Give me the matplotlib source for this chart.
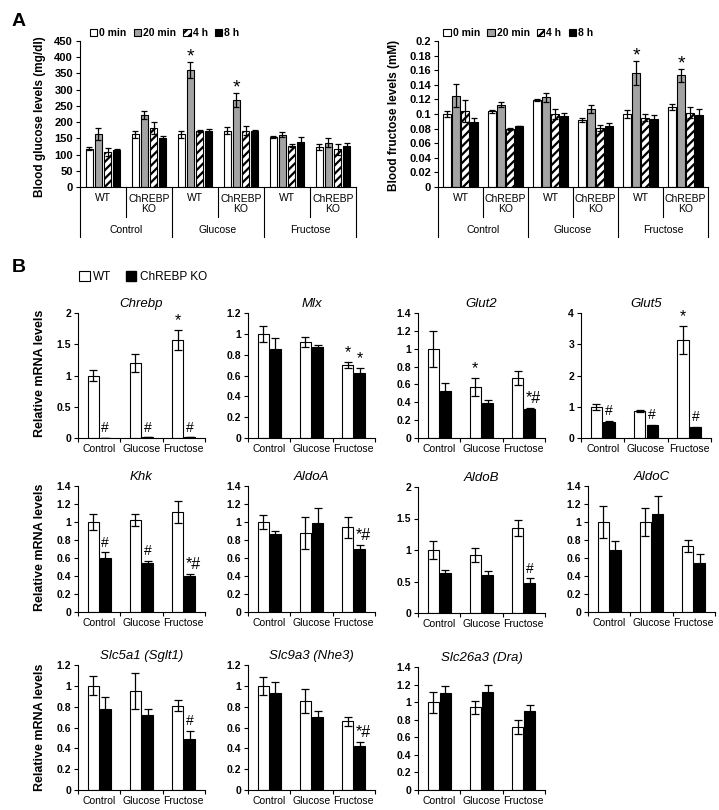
import numpy as np
import matplotlib
matplotlib.use('Agg')
import matplotlib.pyplot as plt
from matplotlib.patches import Patch
from matplotlib.ticker import FormatStrFormatter

plt.rcParams['font.family'] = ['Liberation Sans', 'DejaVu Sans']
plt.rcParams['hatch.linewidth'] = 1.6

W, H = 719, 810

# ---------------- panel A data ----------------
timepoints = ['0 min', '20 min', '4 h', '8 h']
subgroups = ['WT', 'ChREBP\nKO', 'WT', 'ChREBP\nKO', 'WT', 'ChREBP\nKO']
treatments = ['Control', 'Glucose', 'Fructose']

# blood glucose (mg/dl) per time point, 6 subgroups
glc_0min = [118, 162, 162, 173, 154, 123]
glc_0min_err = [5, 10, 10, 11, 4, 10]
glc_20min = [164, 221, 361, 269, 161, 137]
glc_20min_err = [19, 12, 25, 21, 7, 13]
glc_4h = [108, 182, 173, 173, 127, 116]
glc_4h_err = [13, 18, 4, 14, 4, 17]
glc_8h = [113, 151, 173, 172, 139, 126]
glc_8h_err = [5, 7, 5, 5, 14, 11]
glc_stars = [(2, 1), (3, 1)]  # (subgroup, time point)

# blood fructose (mM)
fru_0min = [0.100, 0.104, 0.119, 0.092, 0.100, 0.110]
fru_0min_err = [0.004, 0.002, 0.0015, 0.003, 0.006, 0.004]
fru_20min = [0.125, 0.113, 0.123, 0.107, 0.156, 0.153]
fru_20min_err = [0.016, 0.003, 0.006, 0.005, 0.016, 0.009]
fru_4h = [0.104, 0.080, 0.100, 0.081, 0.095, 0.102]
fru_4h_err = [0.015, 0.0015, 0.007, 0.004, 0.005, 0.007]
fru_8h = [0.089, 0.084, 0.097, 0.083, 0.093, 0.098]
fru_8h_err = [0.005, 0.0, 0.004, 0.004, 0.006, 0.009]
fru_stars = [(4, 1), (5, 1)]

# ---------------- panel B data (Control, Glucose, Fructose) ----------------
chrebp_wt = [1.0, 1.2, 1.57]
chrebp_wt_err = [0.09, 0.145, 0.16]
chrebp_ko = [0.005, 0.012, 0.01]
chrebp_ko_err = [0.0, 0.0, 0.0]
chrebp_wt_marks = ['', '', '*']
chrebp_ko_marks = ['#', '#', '#']

mlx_wt = [1.0, 0.92, 0.70]
mlx_wt_err = [0.08, 0.05, 0.03]
mlx_ko = [0.85, 0.87, 0.62]
mlx_ko_err = [0.11, 0.025, 0.055]
mlx_wt_marks = ['', '', '*']
mlx_ko_marks = ['', '', '*']

glut2_wt = [1.0, 0.57, 0.67]
glut2_wt_err = [0.2, 0.1, 0.08]
glut2_ko = [0.53, 0.39, 0.33]
glut2_ko_err = [0.085, 0.035, 0.005]
glut2_wt_marks = ['', '*', '']
glut2_ko_marks = ['', '', '*#']

glut5_wt = [1.0, 0.87, 3.14]
glut5_wt_err = [0.1, 0.04, 0.45]
glut5_ko = [0.5, 0.41, 0.34]
glut5_ko_err = [0.06, 0.02, 0.02]
glut5_wt_marks = ['', '', '*']
glut5_ko_marks = ['#', '#', '#']

khk_wt = [1.0, 1.02, 1.11]
khk_wt_err = [0.09, 0.065, 0.125]
khk_ko = [0.60, 0.55, 0.40]
khk_ko_err = [0.065, 0.02, 0.02]
khk_wt_marks = ['', '', '']
khk_ko_marks = ['#', '#', '*#']

aldoa_wt = [1.0, 0.88, 0.94]
aldoa_wt_err = [0.08, 0.175, 0.115]
aldoa_ko = [0.87, 0.99, 0.70]
aldoa_ko_err = [0.03, 0.17, 0.05]
aldoa_wt_marks = ['', '', '']
aldoa_ko_marks = ['', '', '*#']

aldob_wt = [1.0, 0.92, 1.35]
aldob_wt_err = [0.15, 0.11, 0.13]
aldob_ko = [0.63, 0.60, 0.47]
aldob_ko_err = [0.05, 0.06, 0.08]
aldob_wt_marks = ['', '', '']
aldob_ko_marks = ['', '', '#']

aldoc_wt = [1.0, 1.0, 0.73]
aldoc_wt_err = [0.18, 0.155, 0.065]
aldoc_ko = [0.69, 1.09, 0.54]
aldoc_ko_err = [0.1, 0.195, 0.11]
aldoc_wt_marks = ['', '', '']
aldoc_ko_marks = ['', '', '']

slc5a1_wt = [1.0, 0.95, 0.81]
slc5a1_wt_err = [0.09, 0.175, 0.05]
slc5a1_ko = [0.78, 0.72, 0.49]
slc5a1_ko_err = [0.115, 0.055, 0.08]
slc5a1_wt_marks = ['', '', '']
slc5a1_ko_marks = ['', '', '#']

slc9a3_wt = [1.0, 0.85, 0.66]
slc9a3_wt_err = [0.085, 0.115, 0.045]
slc9a3_ko = [0.93, 0.70, 0.42]
slc9a3_ko_err = [0.11, 0.063, 0.04]
slc9a3_wt_marks = ['', '', '']
slc9a3_ko_marks = ['', '', '*#']

slc26a3_wt = [1.0, 0.94, 0.72]
slc26a3_wt_err = [0.12, 0.07, 0.08]
slc26a3_ko = [1.1, 1.12, 0.9]
slc26a3_ko_err = [0.08, 0.08, 0.07]
slc26a3_wt_marks = ['', '', '']
slc26a3_ko_marks = ['', '', '']

fig = plt.figure(figsize=(W / 100, H / 100), dpi=100)


def add_axes(x0, y0, x1, y1):
    # pixel box -> figure fraction
    return fig.add_axes([x0 / W, 1 - y1 / H, (x1 - x0) / W, (y1 - y0) / H])


def panel_a(box, series, errs, ymax, ystep, stars, leg_x):
    ax = add_axes(*box)
    x = np.arange(6)
    offs = [-0.3, -0.1, 0.1, 0.3]
    faces = ['white', '#a3a3a3', 'white', 'black']
    hatches = [None, None, '////', None]
    for i in range(4):
        ax.bar(x + offs[i], series[i], 0.16, yerr=errs[i], facecolor=faces[i],
               edgecolor='black', linewidth=0.8, hatch=hatches[i], label=timepoints[i],
               error_kw=dict(ecolor='black', elinewidth=0.9, capsize=2.5, capthick=0.9))
    for sg, t in stars:
        ax.text(sg + offs[t], series[t][sg] + errs[t][sg] + 0.035 * ymax, '*',
                ha='center', va='center', fontsize=14)
    ax.set_xlim(-0.5, 5.5)
    ax.set_ylim(0, ymax)
    ax.set_yticks(np.arange(0, ymax + ystep / 2, ystep))
    ax.yaxis.set_major_formatter(FormatStrFormatter('%g'))
    ax.tick_params(axis='y', length=3, width=0.8, labelsize=8, pad=2)
    for lab in ax.get_yticklabels():
        lab.set_fontweight('bold')
    ax.set_xticks([])
    for s in ['top', 'right']:
        ax.spines[s].set_visible(False)
    for s in ['left', 'bottom']:
        ax.spines[s].set_linewidth(0.8)
    trans = ax.get_xaxis_transform()
    for b in np.arange(-0.5, 6, 1.0):
        low = -0.342 if b in (-0.5, 1.5, 3.5, 5.5) else -0.205
        ax.plot([b, b], [0, low], transform=trans, color='black', lw=0.8, clip_on=False)
    for i, name in enumerate(subgroups):
        yy = -0.075 if '\n' not in name else -0.118
        ax.text(i, yy, name, transform=trans, ha='center', va='center',
                fontsize=7.5, linespacing=1.0)
    for i, name in enumerate(treatments):
        ax.text(2 * i + 0.5, -0.295, name, transform=trans, ha='center', va='center',
                fontsize=7.5)
    ax.legend(ncol=4, loc='lower left', bbox_to_anchor=(leg_x, 1.02), frameon=False,
              handlelength=0.7, handleheight=0.7, handletextpad=0.2, columnspacing=0.7,
              borderaxespad=0, borderpad=0, prop=dict(weight='bold', size=7.5))
    return ax


panel_a((80, 41, 356, 187),
        [glc_0min, glc_20min, glc_4h, glc_8h],
        [glc_0min_err, glc_20min_err, glc_4h_err, glc_8h_err],
        450, 50, glc_stars, 0.035)
panel_a((438, 41, 708, 187),
        [fru_0min, fru_20min, fru_4h, fru_8h],
        [fru_0min_err, fru_20min_err, fru_4h_err, fru_8h_err],
        0.2, 0.02, fru_stars, 0.02)
fig.text(40 / W, 1 - 117 / H, 'Blood glucose levels (mg/dl)', rotation=90,
         ha='center', va='center', fontsize=8.5, fontweight='bold')
fig.text(394 / W, 1 - 115 / H, 'Blood fructose levels (mM)', rotation=90,
         ha='center', va='center', fontsize=8.5, fontweight='bold')


def panel_b(box, title, wt, wt_err, ko, ko_err, ymax, ystep, wt_marks, ko_marks):
    ax = add_axes(*box)
    x = np.arange(3)
    ekw = dict(ecolor='black', elinewidth=0.9, capsize=3, capthick=0.9)
    ax.bar(x - 0.145, wt, 0.26, yerr=wt_err, facecolor='white', edgecolor='black',
           linewidth=0.8, error_kw=ekw)
    ax.bar(x + 0.145, ko, 0.26, yerr=ko_err, facecolor='black', edgecolor='black',
           linewidth=0.8, error_kw=ekw)
    for i in range(3):
        for xx, v, e, m in [(x[i] - 0.145, wt[i], wt_err[i], wt_marks[i]),
                            (x[i] + 0.145, ko[i], ko_err[i], ko_marks[i])]:
            if m:
                dx = 0.08 if len(m) > 1 else 0
                ax.text(xx + dx, v + e + 0.075 * ymax, m, ha='center', va='center',
                        fontsize=10 if m == '#' else 11.5)
    ax.set_xlim(-0.5, 2.5)
    ax.set_ylim(0, ymax)
    ax.set_yticks(np.arange(0, ymax + ystep / 2, ystep))
    ax.yaxis.set_major_formatter(FormatStrFormatter('%g'))
    ax.tick_params(axis='y', length=3, width=0.8, labelsize=7.5, pad=2)
    for lab in ax.get_yticklabels():
        lab.set_fontweight('bold')
    ax.set_xticks(x)
    ax.set_xticklabels(treatments)
    ax.tick_params(axis='x', length=0, labelsize=7.5, pad=4)
    ax.set_xticks([-0.5, 0.5, 1.5, 2.5], minor=True)
    ax.tick_params(axis='x', which='minor', length=3, width=0.8)
    for s in ['top', 'right']:
        ax.spines[s].set_visible(False)
    for s in ['left', 'bottom']:
        ax.spines[s].set_linewidth(0.8)
    ax.set_title(title, fontstyle='italic', fontsize=9.5, pad=4)
    return ax


panel_b((78, 313, 205, 438), 'Chrebp', chrebp_wt, chrebp_wt_err, chrebp_ko, chrebp_ko_err,
        2, 0.5, chrebp_wt_marks, chrebp_ko_marks)
panel_b((248, 313, 375, 438), 'Mlx', mlx_wt, mlx_wt_err, mlx_ko, mlx_ko_err,
        1.2, 0.2, mlx_wt_marks, mlx_ko_marks)
panel_b((418, 313, 545, 438), 'Glut2', glut2_wt, glut2_wt_err, glut2_ko, glut2_ko_err,
        1.4, 0.2, glut2_wt_marks, glut2_ko_marks)
panel_b((581, 313, 711, 438), 'Glut5', glut5_wt, glut5_wt_err, glut5_ko, glut5_ko_err,
        4, 1, glut5_wt_marks, glut5_ko_marks)

panel_b((78, 486, 205, 612), 'Khk', khk_wt, khk_wt_err, khk_ko, khk_ko_err,
        1.4, 0.2, khk_wt_marks, khk_ko_marks)
panel_b((248, 486, 375, 612), 'AldoA', aldoa_wt, aldoa_wt_err, aldoa_ko, aldoa_ko_err,
        1.4, 0.2, aldoa_wt_marks, aldoa_ko_marks)
panel_b((418, 487, 545, 613), 'AldoB', aldob_wt, aldob_wt_err, aldob_ko, aldob_ko_err,
        2, 0.5, aldob_wt_marks, aldob_ko_marks)
panel_b((588, 486, 715, 612), 'AldoC', aldoc_wt, aldoc_wt_err, aldoc_ko, aldoc_ko_err,
        1.4, 0.2, aldoc_wt_marks, aldoc_ko_marks)

panel_b((78, 665, 205, 790), 'Slc5a1 (Sglt1)', slc5a1_wt, slc5a1_wt_err, slc5a1_ko,
        slc5a1_ko_err, 1.2, 0.2, slc5a1_wt_marks, slc5a1_ko_marks)
panel_b((248, 665, 375, 790), 'Slc9a3 (Nhe3)', slc9a3_wt, slc9a3_wt_err, slc9a3_ko,
        slc9a3_ko_err, 1.2, 0.2, slc9a3_wt_marks, slc9a3_ko_marks)
panel_b((418, 667, 545, 790), 'Slc26a3 (Dra)', slc26a3_wt, slc26a3_wt_err, slc26a3_ko,
        slc26a3_ko_err, 1.4, 0.2, slc26a3_wt_marks, slc26a3_ko_marks)

for yc in [373, 547, 727]:
    fig.text(40 / W, 1 - yc / H, 'Relative mRNA levels', rotation=90,
             ha='center', va='center', fontsize=9, fontweight='bold')

fig.legend(handles=[Patch(facecolor='white', edgecolor='black', linewidth=0.8, label='WT'),
                    Patch(facecolor='black', edgecolor='black', label='ChREBP KO')],
           ncol=2, loc='center left', bbox_to_anchor=(79 / W, 1 - 277 / H), frameon=False,
           handlelength=0.9, handleheight=0.9, handletextpad=0.3, columnspacing=1.2,
           borderpad=0, borderaxespad=0, fontsize=8.5)

fig.text(19 / W, 1 - 22 / H, 'A', ha='center', va='center', fontsize=14, fontweight='bold')
fig.text(19 / W, 1 - 268 / H, 'B', ha='center', va='center', fontsize=14, fontweight='bold')

fig.savefig('out.png', dpi=100)
